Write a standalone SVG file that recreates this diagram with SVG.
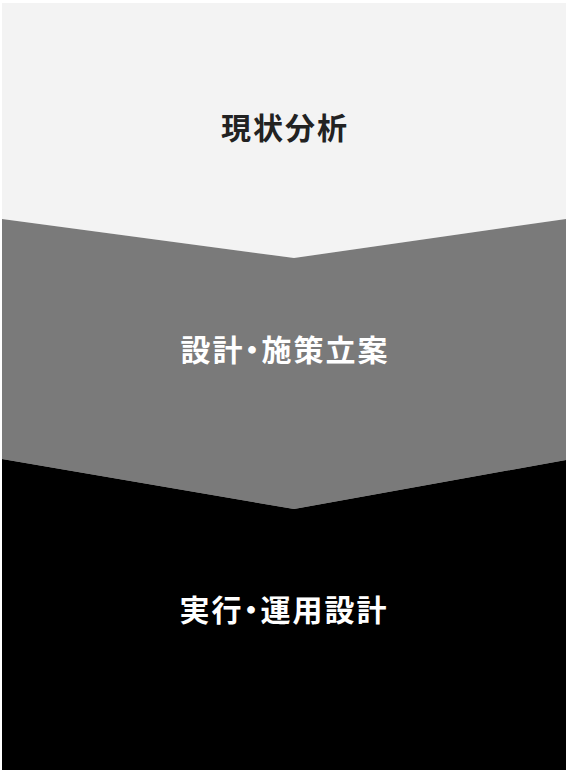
<svg xmlns="http://www.w3.org/2000/svg" width="570" height="770" viewBox="0 0 570 770">
<style>
.lbl{font-family:"Noto Sans CJK JP","Noto Sans CJK SC",sans-serif;font-weight:700;font-size:30px;text-anchor:middle;dominant-baseline:central;letter-spacing:2px;font-feature-settings:"palt"}
</style>
<rect width="570" height="770" fill="#ffffff"/>
<g id="step1">
<polygon points="2,3 566,3 566,219 294,258 2,219" fill="#f3f3f3"/>
<text class="lbl" x="285" y="126" fill="#222222">現状分析</text>
</g>
<g id="step2">
<polygon points="2,219 294,258 566,219 566,460 294,509 2,459" fill="#7a7a7a"/>
<text class="lbl" x="285" y="348" fill="#ffffff">設計・施策立案</text>
</g>
<g id="step3">
<polygon points="2,459 294,509 566,460 566,770 2,770" fill="#000000"/>
<text class="lbl" x="284" y="608" fill="#ffffff">実行・運用設計</text>
</g>
<g id="connectors"></g>
</svg>
